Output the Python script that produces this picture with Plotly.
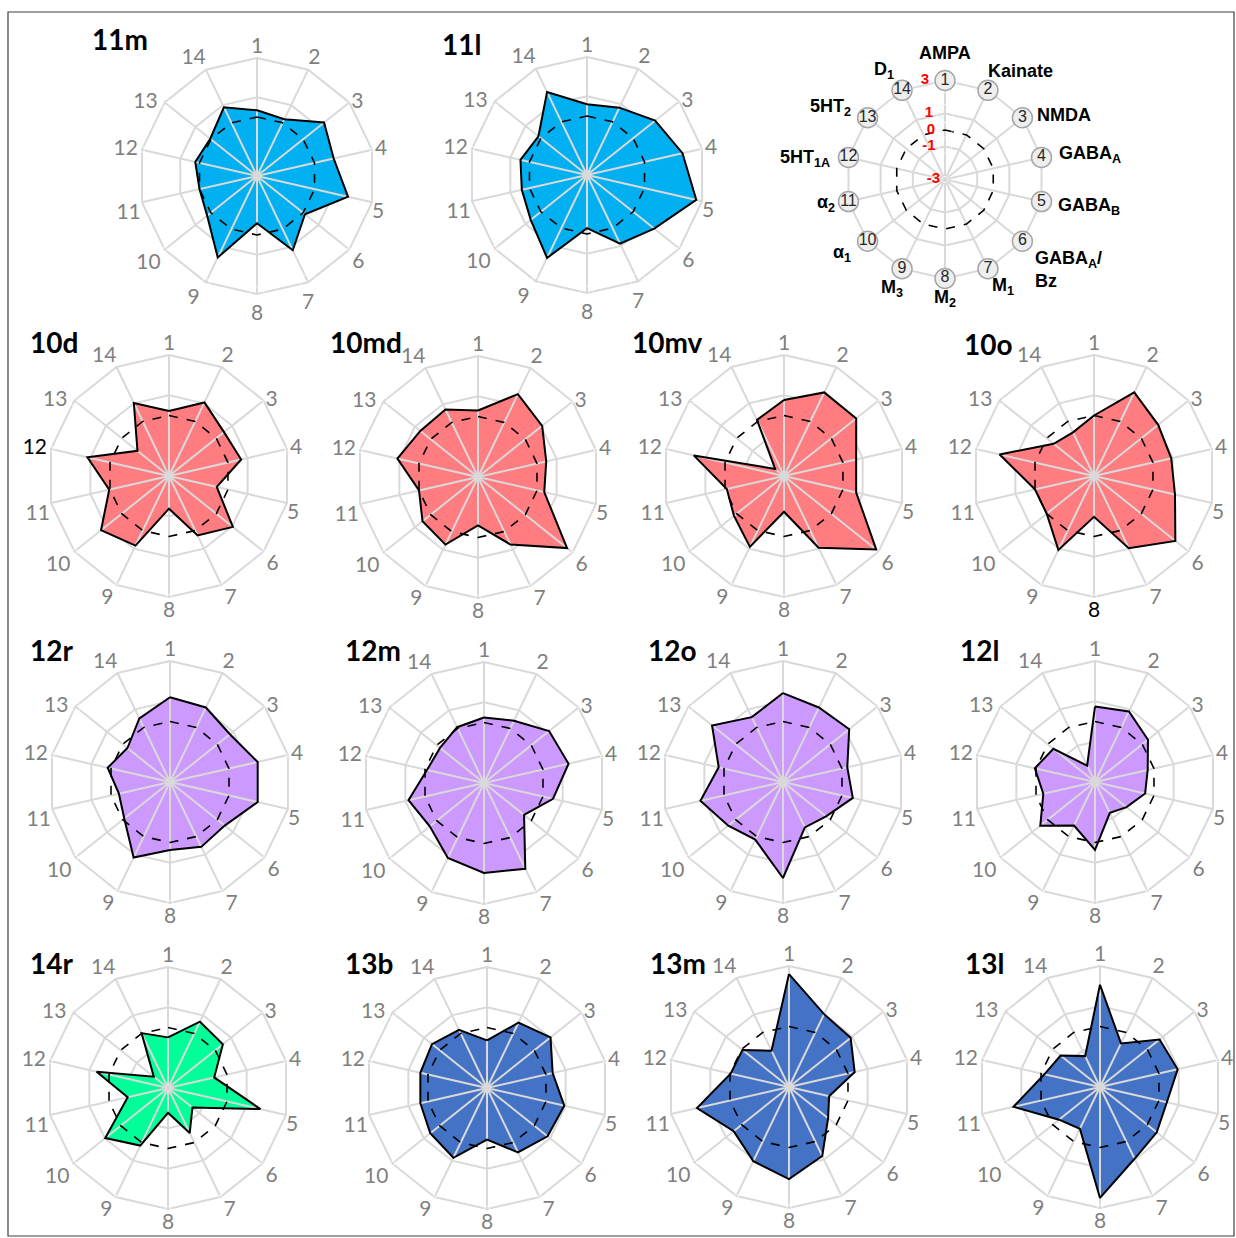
import math
import plotly.graph_objects as go

W, H = 1236, 1238

# ---------------- data ----------------
categories = [str(i) for i in range(1, 15)]
receptors = ["AMPA", "Kainate", "NMDA", "GABA<sub>A</sub>", "GABA<sub>B</sub>",
             "GABA<sub>A</sub>/<br>Bz", "M<sub>1</sub>", "M<sub>2</sub>", "M<sub>3</sub>",
             "α<sub>1</sub>", "α<sub>2</sub>", "5HT<sub>1A</sub>", "5HT<sub>2</sub>", "D<sub>1</sub>"]
scale_vals = [3, 1, 0, -1, -3]
scale_text = ["3", "1", "0", "-1", "-3"]

areas = ["11m", "11l", "10d", "10md", "10mv", "10o", "12r", "12m", "12o", "12l",
         "14r", "13b", "13m", "13l"]

v_11m = [0.34, 0.2, 1.36, 1.0, 1.75, 0.12, 1.19, -0.6, 1.6, 0.24, 0.0, 0.22, 0.04, 0.88]
v_11l = [0.6, 0.8, 1.43, 1.98, 2.7, 1.37, 0.87, -0.3, 1.68, 0.66, 0.4, 0.47, 0.16, 1.68]
v_10d = [0.22, 1.05, 0.49, 0.67, -0.57, 1.05, 0.27, -1.38, 0.83, 1.31, 0.04, 1.15, -1.0, 1.02]
v_10md = [0.3, 1.56, 1.07, 0.47, 0.37, 2.65, 0.72, -0.6, 0.72, 0.52, 0.0, 1.1, 0.66, 0.72]
v_10mv = [0.77, 1.6, 1.58, 0.67, 0.67, 2.85, 0.95, -1.23, 0.9, 0.17, -0.09, 1.59, -2.44, 0.09]
v_10o = [0.0, 1.6, 1.07, 0.93, 1.12, 2.16, 0.97, -0.98, 1.07, 0.0, 0.0, 1.8, -0.44, -0.6]
v_12r = [1.2, 1.1, 0.8, 1.46, 1.46, 0.47, 0.57, 0.37, 1.16, -0.1, -0.4, 0.17, -0.3, 0.5]
v_12m = [0.25, 0.43, 1.13, 1.3, 0.51, -0.46, 1.72, 1.46, 1.13, 0.44, 0.84, -0.1, -0.21, 0.07]
v_12o = [1.41, 1.1, 1.2, 0.27, 0.55, -0.27, -0.5, 1.76, 0.17, 0.47, 1.2, 0.27, 1.5, 0.57]
v_12l = [0.74, 0.88, 0.36, -0.32, -0.45, -1.0, -1.3, 0.37, -0.6, 0.47, -0.37, 0.06, -0.36, -2.1]
v_14r = [-0.49, 0.65, 0.48, -0.65, 1.7, -1.45, -0.52, -1.77, 0.17, 0.98, -0.95, 0.63, -2.1, 0.02]
v_13b = [-0.64, 0.6, 1.03, 0.34, 0.93, 0.84, 0.54, -0.44, 0.84, 0.6, 0.39, 0.39, 0.49, 0.2]
v_13m = [2.6, 1.01, 0.91, 0.34, -0.96, -0.52, 0.8, 1.57, 1.08, 0.51, 1.68, -0.03, -0.05, -1.0]
v_13l = [2.07, -0.6, 0.78, 0.95, 0.4, 0.6, 0.95, 2.5, -0.7, -0.4, 1.4, -0.17, -0.5, -1.3]

values = [v_11m, v_11l, v_10d, v_10md, v_10mv, v_10o, v_12r, v_12m, v_12o, v_12l,
          v_14r, v_13b, v_13m, v_13l]

# ---------------- layout / style ----------------
BLUE, RED, PURPLE, GREEN, DBLUE = "#00B0F0", "#FF7C80", "#CC99FF", "#00FF99", "#4472C4"
colors = [BLUE, BLUE, RED, RED, RED, RED, PURPLE, PURPLE, PURPLE, PURPLE,
          GREEN, DBLUE, DBLUE, DBLUE]
centers = [(257, 176), (587, 175),
           (169, 476), (478, 477), (784, 476), (1094, 476),
           (170, 782), (484, 783), (783, 782), (1095, 782),
           (168, 1088), (487, 1088), (789, 1087), (1100, 1087)]
radii = [118, 118] + [121] * 4 + [121] * 8
title_pos = [(90, 39), (440, 44), (28, 342), (328, 342), (630, 342), (962, 344),
             (28, 650), (343, 650), (646, 650), (958, 650),
             (28, 963), (343, 963), (648, 963), (963, 963)]
black_tick = {"10d": "12", "10o": "8"}

GRID = "#D9D9D9"
TICKC = "#7F7F7F"
TICKFONT = "Lato, Carlito, Calibri, sans-serif"
RMAX = 3.3        # axis runs a little past 3 so labels anchored at r=3 stay inside

# category label placement around each web (text anchor, standoff in px)
lab_pos = ["top center", "top right", "middle right", "middle right", "bottom right",
           "bottom right", "bottom right", "bottom center", "bottom left", "bottom left",
           "bottom left", "middle left", "middle left", "top left"]
lab_off = [0, 0, 2, 3, 0, 3, 3, 4.5, 3, 4, 1.2, 4, 7, 0]
# first row webs are drawn slightly smaller with looser bottom labels
lab_pos_top = lab_pos[:6] + ["bottom center"] + lab_pos[7:]
lab_off_top = lab_off[:6] + [11, 10, 6] + lab_off[9:]

LEG_C, LEG_R = (945, 179.5), 99
LEG_RMAX = 3.6
# key label anchors: (xanchor, dx, dy) relative to each numbered circle, px
leg_anchor = [("center", 0, -28), ("left", -1.5, -19), ("left", 13, -3), ("left", 15, -2.5),
              ("left", 14.4, 4.5), ("left", 10.7, 28), ("left", 2.4, 17.5), ("center", 0, 19.5),
              ("center", -10, 19.5), ("right", -15, 12.5), ("right", -11.6, 1.5),
              ("right", -16, 1.5), ("right", -14.4, -10), ("right", -6, -20)]
scale_off = [16, 12, 10, 9.5, 5]


def off_to_size(o):
    # plotly offsets text by (marker radius / 0.8 + 1)
    return 0 if o <= 0 else max(1.6 * (o - 1), 0.05)


def domain(cx, cy, R):
    return dict(x=[(cx - R) / W, (cx + R) / W], y=[1 - (cy + R) / H, 1 - (cy - R) / H])


def polar_layout(cx, cy, R, rmax):
    Rd = R * (3 + rmax) / 6
    return dict(
        domain=domain(cx, cy, Rd),
        bgcolor="rgba(0,0,0,0)",
        gridshape="circular",
        radialaxis=dict(range=[-3, rmax], showgrid=False, showticklabels=False,
                        showline=False, ticks=""),
        angularaxis=dict(type="category", categoryarray=categories,
                         direction="clockwise", rotation=90,
                         showgrid=False, showline=False, ticks="",
                         showticklabels=False),
    )


closed = categories + [categories[0]]
fig = go.Figure()


def add_rings(sub, levels):
    for rv in levels:
        fig.add_trace(go.Scatterpolar(r=[rv] * 15, theta=closed, mode="lines",
                                      line=dict(color=GRID, width=2),
                                      hoverinfo="skip", showlegend=False, subplot=sub))


def add_spokes_and_zero(sub):
    th, rr = [], []
    for c in categories:
        th += [c, c]
        rr += [-3, 3]
    fig.add_trace(go.Scatterpolar(r=rr, theta=th, mode="lines",
                                  line=dict(color=GRID, width=2),
                                  hoverinfo="skip", showlegend=False, subplot=sub))
    fig.add_trace(go.Scatterpolar(r=[0] * 15, theta=closed, mode="lines",
                                  line=dict(color="black", width=1.6, dash="dash"),
                                  hoverinfo="skip", showlegend=False, subplot=sub))


layout = {}
annotations = []
for i, (name, vals, col) in enumerate(zip(areas, values, colors)):
    sub = "polar" if i == 0 else f"polar{i + 1}"
    cx, cy = centers[i]
    layout[sub] = polar_layout(cx, cy, radii[i], RMAX)
    add_rings(sub, (-1, 1, 3))
    rv = vals + [vals[0]]
    fig.add_trace(go.Scatterpolar(r=rv, theta=closed, mode="lines", fill="toself",
                                  fillcolor=col, line=dict(color=col, width=0.1),
                                  hoverinfo="skip", showlegend=False, subplot=sub))
    add_spokes_and_zero(sub)
    fig.add_trace(go.Scatterpolar(r=rv, theta=closed, mode="lines",
                                  line=dict(color="black", width=2),
                                  hoverinfo="skip", showlegend=False, subplot=sub))
    # category labels 1..14
    tcol = ["black" if black_tick.get(name) == c else TICKC for c in categories]
    pos = lab_pos_top if i < 2 else lab_pos
    offs = lab_off_top if i < 2 else lab_off
    fig.add_trace(go.Scatterpolar(
        r=[3] * 14, theta=categories, mode="markers+text", text=categories,
        textposition=pos, cliponaxis=False,
        textfont=dict(family=TICKFONT, size=21, color=tcol),
        marker=dict(size=[off_to_size(o) for o in offs], color="rgba(0,0,0,0)"),
        hoverinfo="skip", showlegend=False, subplot=sub))
    tx, ty = title_pos[i]
    annotations.append(dict(text=f"<b>{name}</b>", x=tx / W, y=1 - ty / H,
                            xref="paper", yref="paper", xanchor="left", yanchor="middle",
                            showarrow=False,
                            font=dict(family="Lato, sans-serif", size=28, color="black")))

# ---------------- key panel ----------------
lsub = f"polar{len(areas) + 1}"
layout[lsub] = polar_layout(LEG_C[0], LEG_C[1], LEG_R, LEG_RMAX)
add_rings(lsub, (-1, 1, 3))
add_spokes_and_zero(lsub)
fig.add_trace(go.Scatterpolar(
    r=[3] * 14, theta=categories, mode="markers+text", text=categories,
    textposition="middle center", cliponaxis=False,
    textfont=dict(family="Liberation Sans, Arial", size=16, color="#262626"),
    marker=dict(size=20, color="#EEEEEE", line=dict(color="#A6A6A6", width=1.5)),
    hoverinfo="skip", showlegend=False, subplot=lsub))
fig.add_trace(go.Scatterpolar(
    r=scale_vals, theta=[categories[0]] * len(scale_vals), mode="markers+text",
    text=[f"<b>{t}</b>" for t in scale_text], textposition="middle left", cliponaxis=False,
    textfont=dict(family="Liberation Sans, Arial", size=15, color="red"),
    marker=dict(size=[off_to_size(o) for o in scale_off], color="rgba(0,0,0,0)"),
    hoverinfo="skip", showlegend=False, subplot=lsub))

# receptor names next to the key circles (circle centres follow the web geometry)
for k, (txt, (xa, dx, dy)) in enumerate(zip(receptors, leg_anchor)):
    ang = 2 * math.pi * k / len(categories)
    px = LEG_C[0] + LEG_R * math.sin(ang)
    py = LEG_C[1] - LEG_R * math.cos(ang)
    annotations.append(dict(text=f"<b>{txt}</b>", x=px / W, y=1 - py / H,
                            xref="paper", yref="paper", xanchor=xa, yanchor="middle",
                            xshift=dx, yshift=-dy, showarrow=False, align="left",
                            font=dict(family="Liberation Sans, Arial", size=18,
                                      color="black")))

fig.update_layout(
    width=W, height=H,
    margin=dict(l=0, r=0, t=0, b=0),
    paper_bgcolor="white", plot_bgcolor="white",
    showlegend=False,
    annotations=annotations,
    shapes=[dict(type="rect", xref="paper", yref="paper",
                 x0=8 / W, x1=1234 / W, y0=1 - 1236 / H, y1=1 - 12 / H,
                 line=dict(color="#404040", width=1.2))],
    **layout,
)

fig.write_html("out.html", config={"displayModeBar": False},
               post_script="document.body.style.margin='0px';document.body.style.overflow='hidden';")
